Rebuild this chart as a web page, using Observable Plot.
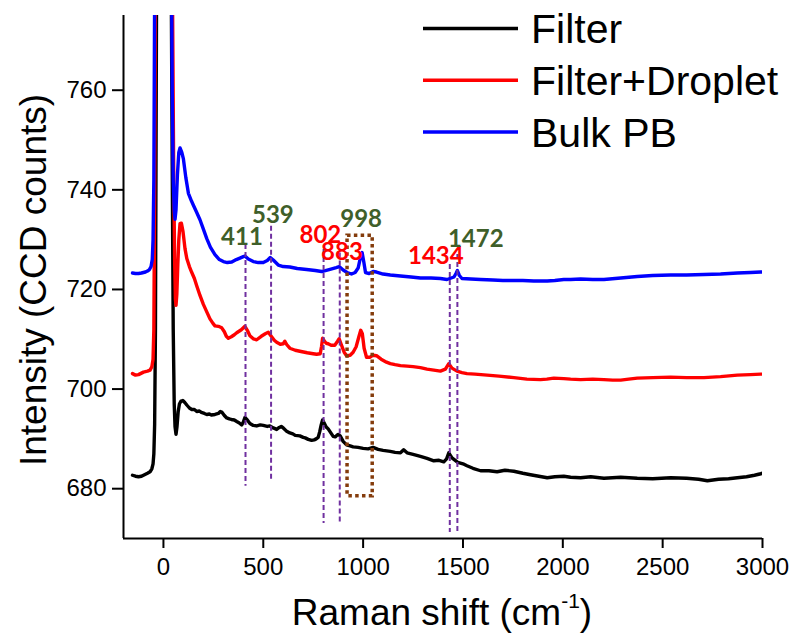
<!DOCTYPE html>
<html><head><meta charset="utf-8">
<script src="https://cdn.jsdelivr.net/npm/d3@7"></script>
<script src="https://cdn.jsdelivr.net/npm/@observablehq/plot@0.6"></script>
<style>body{margin:0;background:#fff}#chart{width:795px;height:635px}</style>
</head><body><div id="chart"></div>
<script>
const seriesNames = ["Filter", "Filter+Droplet", "Bulk PB"];
const seriesColors = ["#000000", "#ff0000", "#0000ff"];
const xTicks = [0, 500, 1000, 1500, 2000, 2500, 3000];
const yTicks = [680, 700, 720, 740, 760];

const filterX = [-155,-140,-125,-110,-100,-90,-80,-67,-58,-52,-48,-44,-40,-36,-25,0,25,38,44,49,54,58,63,68,74,80,88,97,107,117,130,142,155,167,180,190,205,217,230,240,258,275,285,292,305,317,330,340,355,367,380,392,400,408,420,433,450,467,485,500,520,533,550,567,580,590,600,615,633,648,660,683,700,710,725,742,755,765,775,783,790,797,805,815,825,840,850,860,868,875,885,900,917,935,950,975,1000,1025,1050,1075,1100,1136,1160,1187,1203,1220,1250,1287,1320,1354,1380,1404,1418,1429,1445,1474,1500,1520,1550,1588,1630,1671,1710,1755,1800,1838,1880,1922,1960,2005,2039,2089,2140,2206,2290,2373,2450,2540,2620,2680,2724,2780,2830,2874,2920,2960,2991,3000];
const filterY = [682.7,682.5,682.4,682.5,682.7,682.9,683.1,683.4,684.0,685.0,687,693,712,760,900,1100,900,790,745,712,697,692.5,690.9,692.5,695.5,697,697.6,697.7,697.3,696.8,696.2,695.9,695.9,695.5,695.6,695.3,695.1,694.9,695.0,694.8,694.9,695.1,695.5,695.4,694.7,694.2,694.0,693.9,693.8,693.5,693.2,692.8,693.4,694.3,693.8,693.1,692.7,692.6,692.8,692.7,692.5,692.6,692.2,691.9,692.3,692.5,692.2,691.6,691.2,691.0,690.7,690.6,690.3,690.2,689.9,689.7,689.8,690.0,690.3,691.5,692.8,693.8,693.2,692.4,692.0,691.1,690.5,690.4,690.7,690.9,690.6,689.5,688.8,688.6,688.4,688.3,688.1,688.0,688.3,687.9,687.7,687.5,687.3,687.2,687.8,687.2,686.9,686.5,686.1,685.6,685.7,685.4,686.0,687.2,686.2,685.3,685.0,684.6,684.1,683.6,683.6,683.4,683.7,683.5,683.1,682.8,682.5,682.2,682.4,682.5,682.3,682.2,682.4,682.1,682.3,682.1,682.0,682.2,682.1,681.9,681.6,681.9,682.0,682.2,682.4,682.7,683.0,683.1];

const dropletX = [-155,-140,-125,-110,-100,-90,-80,-67,-58,-52,-48,-44,-40,-25,0,25,40,46,51,56,60,63,67,72,77,83,90,98,108,117,130,142,155,167,183,200,217,233,248,258,275,292,305,315,325,340,355,367,390,408,420,433,450,467,490,510,525,540,555,567,585,600,608,618,633,660,683,720,750,767,785,792,797,805,815,825,840,858,872,880,890,905,917,935,950,965,978,988,996,1005,1017,1035,1050,1067,1090,1117,1136,1160,1187,1220,1250,1287,1320,1354,1387,1412,1429,1445,1470,1495,1520,1560,1621,1680,1755,1820,1888,1920,1955,2005,2039,2089,2150,2206,2250,2290,2330,2373,2450,2540,2620,2707,2790,2874,2940,2991,3000];
const dropletY = [703.1,702.8,702.9,703.2,703.4,703.5,703.6,703.8,704.5,706,712,740,790,950,1100,950,820,775,745,726,718,716.8,719,725,730,733.2,733.3,731.6,728.2,726.2,724.6,723.4,722.2,720.7,718.8,717.0,715.5,714.1,713.2,712.7,712.6,712.3,711.5,710.6,710.2,710.5,710.9,711.3,711.9,712.6,711.8,710.7,710.1,709.9,710.6,711.1,711.4,710.6,709.8,709.4,709.0,709.1,709.6,708.9,708.2,707.8,707.6,707.3,707.1,707.0,707.1,708.6,710.2,709.7,709.2,709.1,708.8,708.8,709.6,710.1,709.0,707.4,706.7,706.8,707.4,708.5,710.4,711.8,711.1,708.2,706.4,706.4,706.8,706.7,706.0,705.4,705.1,704.9,704.7,704.6,704.5,704.3,704.0,703.8,703.6,704.0,705.1,704.2,703.6,703.3,703.1,703.0,702.8,702.6,702.3,702.0,701.9,702.0,702.2,702.1,702.0,701.9,702.0,701.9,701.8,701.8,702.0,702.2,702.3,702.4,702.3,702.3,702.5,702.8,702.9,703.0,703.0];

const bulkX = [-155,-140,-125,-110,-100,-90,-80,-70,-62,-56,-52,-48,-44,-30,0,30,38,44,49,54,58,63,70,77,83,92,100,112,125,140,150,165,183,200,217,235,258,280,300,320,342,365,383,400,408,425,450,475,500,520,535,550,575,600,633,670,717,760,792,830,865,880,900,920,942,960,975,987,995,1003,1012,1030,1050,1067,1100,1136,1187,1240,1287,1340,1387,1420,1455,1465,1472,1482,1495,1540,1588,1650,1700,1755,1800,1855,1922,1960,2005,2039,2089,2150,2206,2290,2373,2450,2540,2620,2707,2790,2874,2940,2991,3000];
const bulkY = [723.3,723.2,723.2,723.3,723.4,723.5,723.7,724.0,724.6,726,730,742,780,900,1100,900,800,760,742,736,734.1,736,743,747.5,748.4,747.5,746.2,742.5,739.3,737.8,736.9,735.6,734.0,732.1,730.2,728.5,727.0,726.0,725.6,725.4,725.5,726.0,726.3,726.6,726.7,726.1,725.6,725.4,725.4,725.8,726.4,725.9,724.9,724.6,724.5,724.2,724.0,723.8,723.6,724.0,724.4,724.6,723.9,723.4,723.1,723.4,724.3,726.5,727.4,725.6,723.4,723.2,723.6,723.5,723.1,722.9,722.7,722.5,722.3,722.3,722.2,722.0,722.5,723.2,723.8,722.8,722.2,722.1,722.0,721.9,721.8,721.8,721.8,721.7,721.7,721.8,722.0,722.0,722.1,722.0,722.0,722.3,722.6,722.8,722.9,722.9,723.0,723.1,723.3,723.4,723.5,723.5];

// peak annotations
const peakLabels = ["411", "539", "802", "883", "998", "1434", "1472"];
const peakColors = ["#3f5f2a", "#3f5f2a", "#ff0000", "#ff0000", "#3f5f2a", "#ff0000", "#3f5f2a"];
const labelX = [393, 548, 786, 894, 990, 1364, 1564];
const labelY = [729.0, 733.4, 729.3, 726.0, 732.5, 725.2, 728.5];
const markerX = [411, 539, 802, 883, 1434, 1472];
const markerTop = [729.0, 732.7, 728.0, 727.3, 725.0, 727.0];
const markerBottom = [680.5, 681.5, 673.0, 673.0, 671.2, 671.2];
const boxX = [922, 1048];
const boxY = [678.5, 730.8];

const xDomain = [-200, 3000];
const yDomain = [670, 775];
const FONT = "'Liberation Sans', Arial, Helvetica, sans-serif";

const rows = [];
[[filterX, filterY], [dropletX, dropletY], [bulkX, bulkY]].forEach(([xs, ys], i) => {
  xs.forEach((x, j) => rows.push({series: seriesNames[i], x, y: ys[j]}));
});
const labels = peakLabels.map((t, i) => ({t, x: labelX[i], y: labelY[i], c: peakColors[i]}));
const markers = markerX.map((x, i) => ({x, y1: markerTop[i], y2: markerBottom[i]}));

const plot = Plot.plot({
  width: 795, height: 635,
  marginLeft: 123, marginRight: 33, marginTop: 15, marginBottom: 97,
  style: {fontFamily: FONT, background: "white", color: "black"},
  x: {domain: xDomain, ticks: xTicks},
  y: {domain: yDomain, ticks: yTicks},
  color: {domain: seriesNames, range: seriesColors},
  marks: [
    Plot.line(rows, {x: "x", y: "y", z: "series", stroke: "series", strokeWidth: 3.4, clip: true, strokeLinejoin: "round"}),
    Plot.ruleX(markers, {x: "x", y1: "y1", y2: "y2", stroke: "#7030a0", strokeWidth: 2, strokeDasharray: "5,3"}),
    Plot.rect([{x1: boxX[0], x2: boxX[1], y1: boxY[0], y2: boxY[1]}], {x1: "x1", x2: "x2", y1: "y1", y2: "y2", fill: "none", stroke: "#843c0c", strokeWidth: 3.5, strokeDasharray: "3.5,3.3"}),
    Plot.text(labels, {x: "x", y: "y", text: "t", fill: "c", fontFamily: "Lato, 'Open Sans', sans-serif", fontWeight: "bold", fontSize: 24, lineAnchor: "bottom", textAnchor: "middle"}),
    Plot.axisX({ticks: xTicks, tickFormat: d => String(d), tickSize: 10, tickPadding: 9, fontSize: 24, strokeWidth: 2, label: null}),
    Plot.axisY({ticks: yTicks, tickFormat: d => String(d), tickSize: 11, tickPadding: 6, fontSize: 24, strokeWidth: 2, label: null}),
    Plot.ruleX([xDomain[0]], {stroke: "black", strokeWidth: 2}),
    Plot.ruleY([yDomain[0]], {stroke: "black", strokeWidth: 2})
  ]
});

const svg = d3.select(plot);
// legend
const lg = svg.append("g").attr("font-family", FONT).attr("text-anchor", "start");
seriesNames.forEach((n, i) => {
  const y = 28.5 + i * 51.7;
  lg.append("line").attr("x1", 423).attr("x2", 518).attr("y1", y).attr("y2", y)
    .attr("stroke", seriesColors[i]).attr("stroke-width", 3.5);
  lg.append("text").attr("x", 531).attr("y", y).attr("dy", "0.36em")
    .attr("font-size", 41).attr("fill", "black").attr("text-anchor", "start").text(n);
});
// axis titles
const xt = svg.append("text").attr("x", 442).attr("y", 625).attr("text-anchor", "middle")
  .attr("font-family", FONT).attr("font-size", 37).attr("fill", "black");
xt.append("tspan").text("Raman shift (cm");
xt.append("tspan").attr("dy", -17).attr("font-size", 21).text("-1");
xt.append("tspan").attr("dy", 17).text(")");
svg.append("text").attr("transform", "rotate(-90)").attr("x", -280).attr("y", 46)
  .attr("text-anchor", "middle").attr("font-family", FONT).attr("font-size", 37).attr("fill", "black")
  .text("Intensity (CCD counts)");

document.getElementById("chart").appendChild(plot);
</script></body></html>
